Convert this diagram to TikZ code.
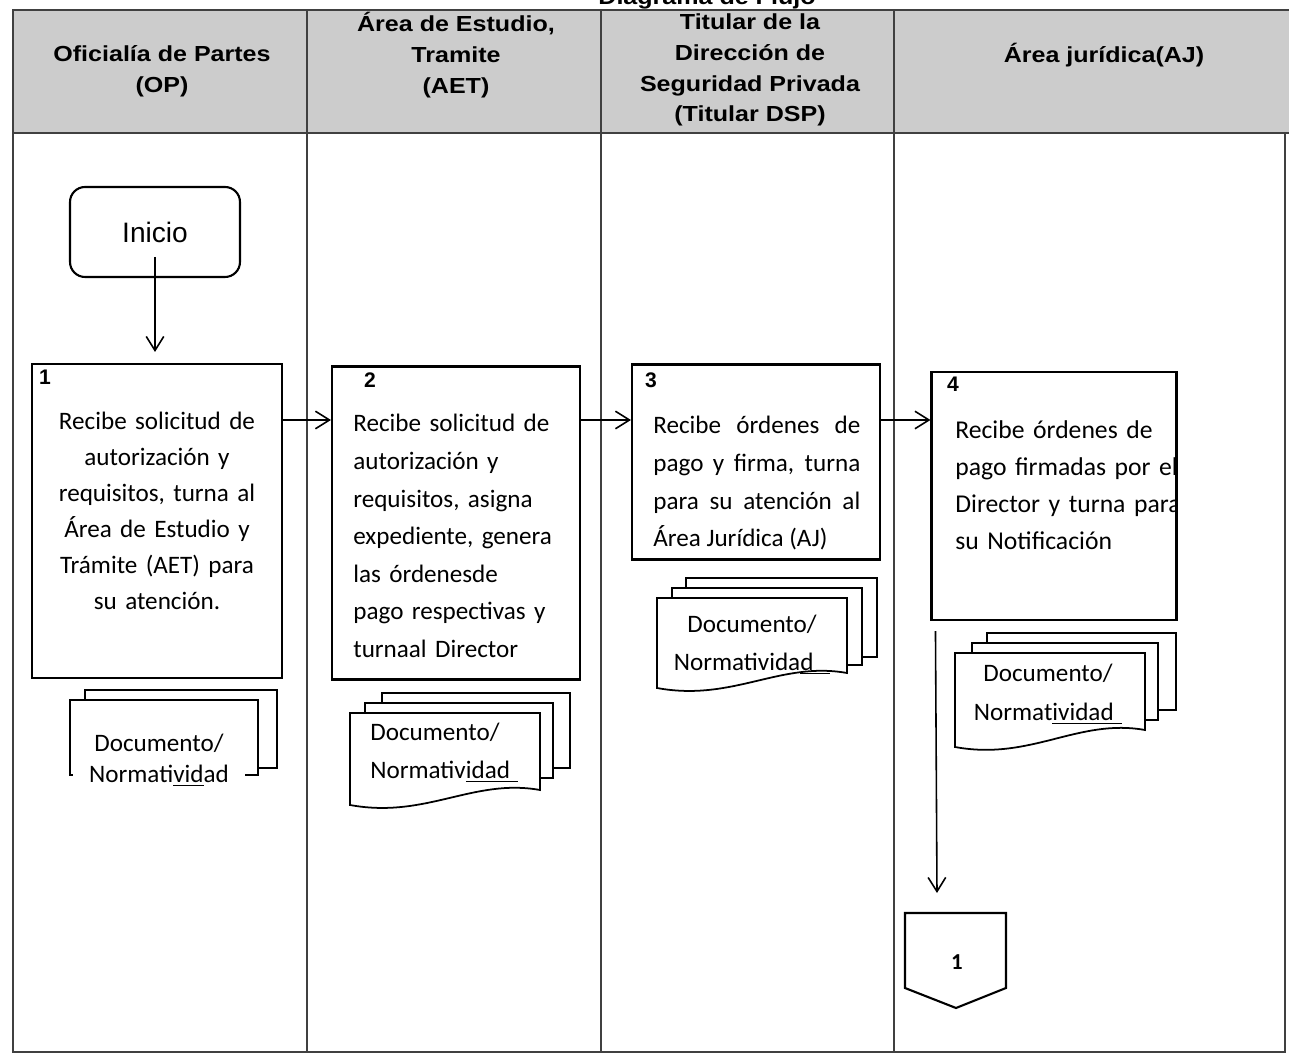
\documentclass[tikz,border=0pt]{standalone}
\usepackage{fontspec}
\setmainfont{Carlito}
\newfontfamily\hdfont[FakeStretch=1.15]{Liberation Sans}
\newfontfamily\arialfont{Liberation Sans}
\usetikzlibrary{arrows.meta,positioning}

\tikzset{
  lane/.style={draw=black!75, line width=1pt},
  headtxt/.style={font=\hdfont\bfseries\fontsize{12.4}{17.5}\selectfont, align=center, inner sep=0pt},
  startbox/.style={draw, rounded corners=0.3cm, line width=1.2pt, minimum width=3.4cm,
    minimum height=1.8cm, font=\arialfont\fontsize{16}{16}\selectfont},
  stepbox/.style={draw, line width=1.2pt, inner sep=0pt},
  stepnum/.style={font=\arialfont\bfseries\fontsize{12}{12}\selectfont, inner sep=0pt},
  steptxt/.style={font=\fontsize{14.3}{21.4}\selectfont, inner sep=0pt},
  docpage/.style={draw, fill=white, line width=1pt},
  doctxt/.style={font=\fontsize{14.3}{22}\selectfont, inner sep=0pt, text width=3.8cm, align=center},
  arr/.style={-{Straight Barb[length=8pt,width=10pt]}, line width=0.9pt},
}

\begin{document}
\begin{tikzpicture}[x=0.02cm, y=-0.02cm]
\useasboundingbox (0,0) rectangle (1289,1057);

% title, cut by the top edge
\node[headtxt, anchor=base] (title) at (707,5) {Diagrama de Flujo};

% swimlanes
\fill[black!20] (13,10) rectangle (1289,133);
\draw[lane] (1289,10) -- (13,10) -- (13,1052) -- (1285,1052) -- (1285,133);
\draw[lane] (13,133) -- (1289,133);
\foreach \xx in {307,601,894}
  \draw[lane] (\xx,10) -- (\xx,1052);

\node[headtxt] (op) at (162,71) {Oficialía de Partes\\(OP)};
\node[headtxt] (aet) at (456,55) {Área de Estudio,\\Tramite\\(AET)};
\node[headtxt] (dsp) at (750,70) {Titular de la\\Dirección de\\Seguridad  Privada\\(Titular DSP)};
\node[headtxt] (aj) at (1104,55) {Área jurídica(AJ)};

% steps
\node[startbox] (inicio) at (155,232) {Inicio};

\node[stepbox, minimum width=5cm, minimum height=6.28cm] (box1) at (157,521) {};
\node[stepbox, minimum width=4.96cm, minimum height=6.26cm] (box2) at (456,523) {};
\node[stepbox, minimum width=4.96cm, minimum height=3.9cm] (box3) at (756,462) {};
\node[stepbox, minimum width=4.9cm, minimum height=4.96cm] (box4) at (1054,496) {};

\node[stepnum] (n1) at (45,377) {1};
\node[stepnum] (n2) at (370,380) {2};
\node[stepnum] (n3) at (651,380) {3};
\node[stepnum] (n4) at (953,384) {4};

\node[steptxt, anchor=base, text width=4.9cm, align=center, font=\fontsize{14.3}{20.4}\selectfont] (t1) at (157,430)
  {Recibe solicitud de\\autorización y\\requisitos, turna al\\Área de Estudio y\\Trámite (AET) para\\su atención.};
\node[steptxt, anchor=base west, text width=4.4cm, align=left] (t2) at (353,432)
  {Recibe solicitud de\\autorización y\\requisitos, asigna\\expediente, genera\\las órdenesde\\pago respectivas y\\turnaal Director};
\node[steptxt, anchor=base west, text width=4.14cm, align=justify] (t3) at (653,434)
  {Recibe órdenes de\linebreak pago y firma, turna\linebreak para su atención al\linebreak Área Jurídica (AJ)};
\begin{scope}
  \clip (box4.north west) rectangle (box4.south east);
  \node[steptxt, anchor=base west, text width=5cm, align=left, font=\fontsize{14.6}{21}\selectfont] (t4) at (955,439)
    {Recibe órdenes de\\pago firmadas por el\\Director y turna para\\su Notificación};
\end{scope}

% documents
\draw[docpage] (85,690) rectangle (277,768);
\draw[docpage] (70,700) rectangle (258,775);
\node[doctxt, fill=white, text width=3.44cm, minimum height=2.08cm,
  font=\fontsize{14.3}{18}\selectfont] (doc1) at (159,760) {Documento/\\Normati\underline{vid}ad};

\draw[docpage] (382,693) rectangle (570,768);
\draw[docpage] (365,703) rectangle (553,778);
\draw[docpage] (350,713) -- (540,713) -- (540,790)
  .. controls (473,778) and (426,819) .. (350,805) -- cycle;
\node[doctxt, anchor=base west, align=left] (doc2) at (370,740) {Documento/\\Normativ\underline{idad\ }};

\draw[docpage] (686,578) rectangle (877,657);
\draw[docpage] (672,588) rectangle (862,665);
\draw[docpage] (657,598) -- (847,598) -- (847,673)
  .. controls (780,661) and (733,702) .. (657,688) -- cycle;
\node[doctxt, anchor=base] (doc3) at (752,632) {Documento/\\Normativida\underline{d\ \ }};

\draw[docpage] (987,633) rectangle (1176,710);
\draw[docpage] (972,643) rectangle (1158,720);
\draw[docpage] (955,653) -- (1145,653) -- (1145,730)
  .. controls (1078,718) and (1031,761) .. (955,747) -- cycle;
\node[doctxt, anchor=base] (doc4) at (1048,682) {Documento/\\Normat\underline{ividad\ }};

% off-page connector
\draw[line width=1.2pt] (905,913) -- (1006,913) -- (1006,988) -- (956,1008) -- (905,988) -- cycle;
\node[font=\bfseries\fontsize{13}{13}\selectfont] (off) at (957,962) {1};
\coordinate (offtop) at (937,893);

% flow
\coordinate (arrowrow) at (0,420);
\draw[arr, shorten >=0.22cm] ([yshift=-0.5cm]inicio.center) -- (inicio.center |- box1.north);
\draw[arr] (box1.east |- arrowrow) -- (box2.west |- arrowrow);
\draw[arr] (box2.east |- arrowrow) -- (box3.west |- arrowrow);
\draw[arr] (box3.east |- arrowrow) -- (box4.west |- arrowrow);
\draw[arr] ([shift={(5,10)}]box4.south west) -- (offtop);
\end{tikzpicture}
\end{document}
